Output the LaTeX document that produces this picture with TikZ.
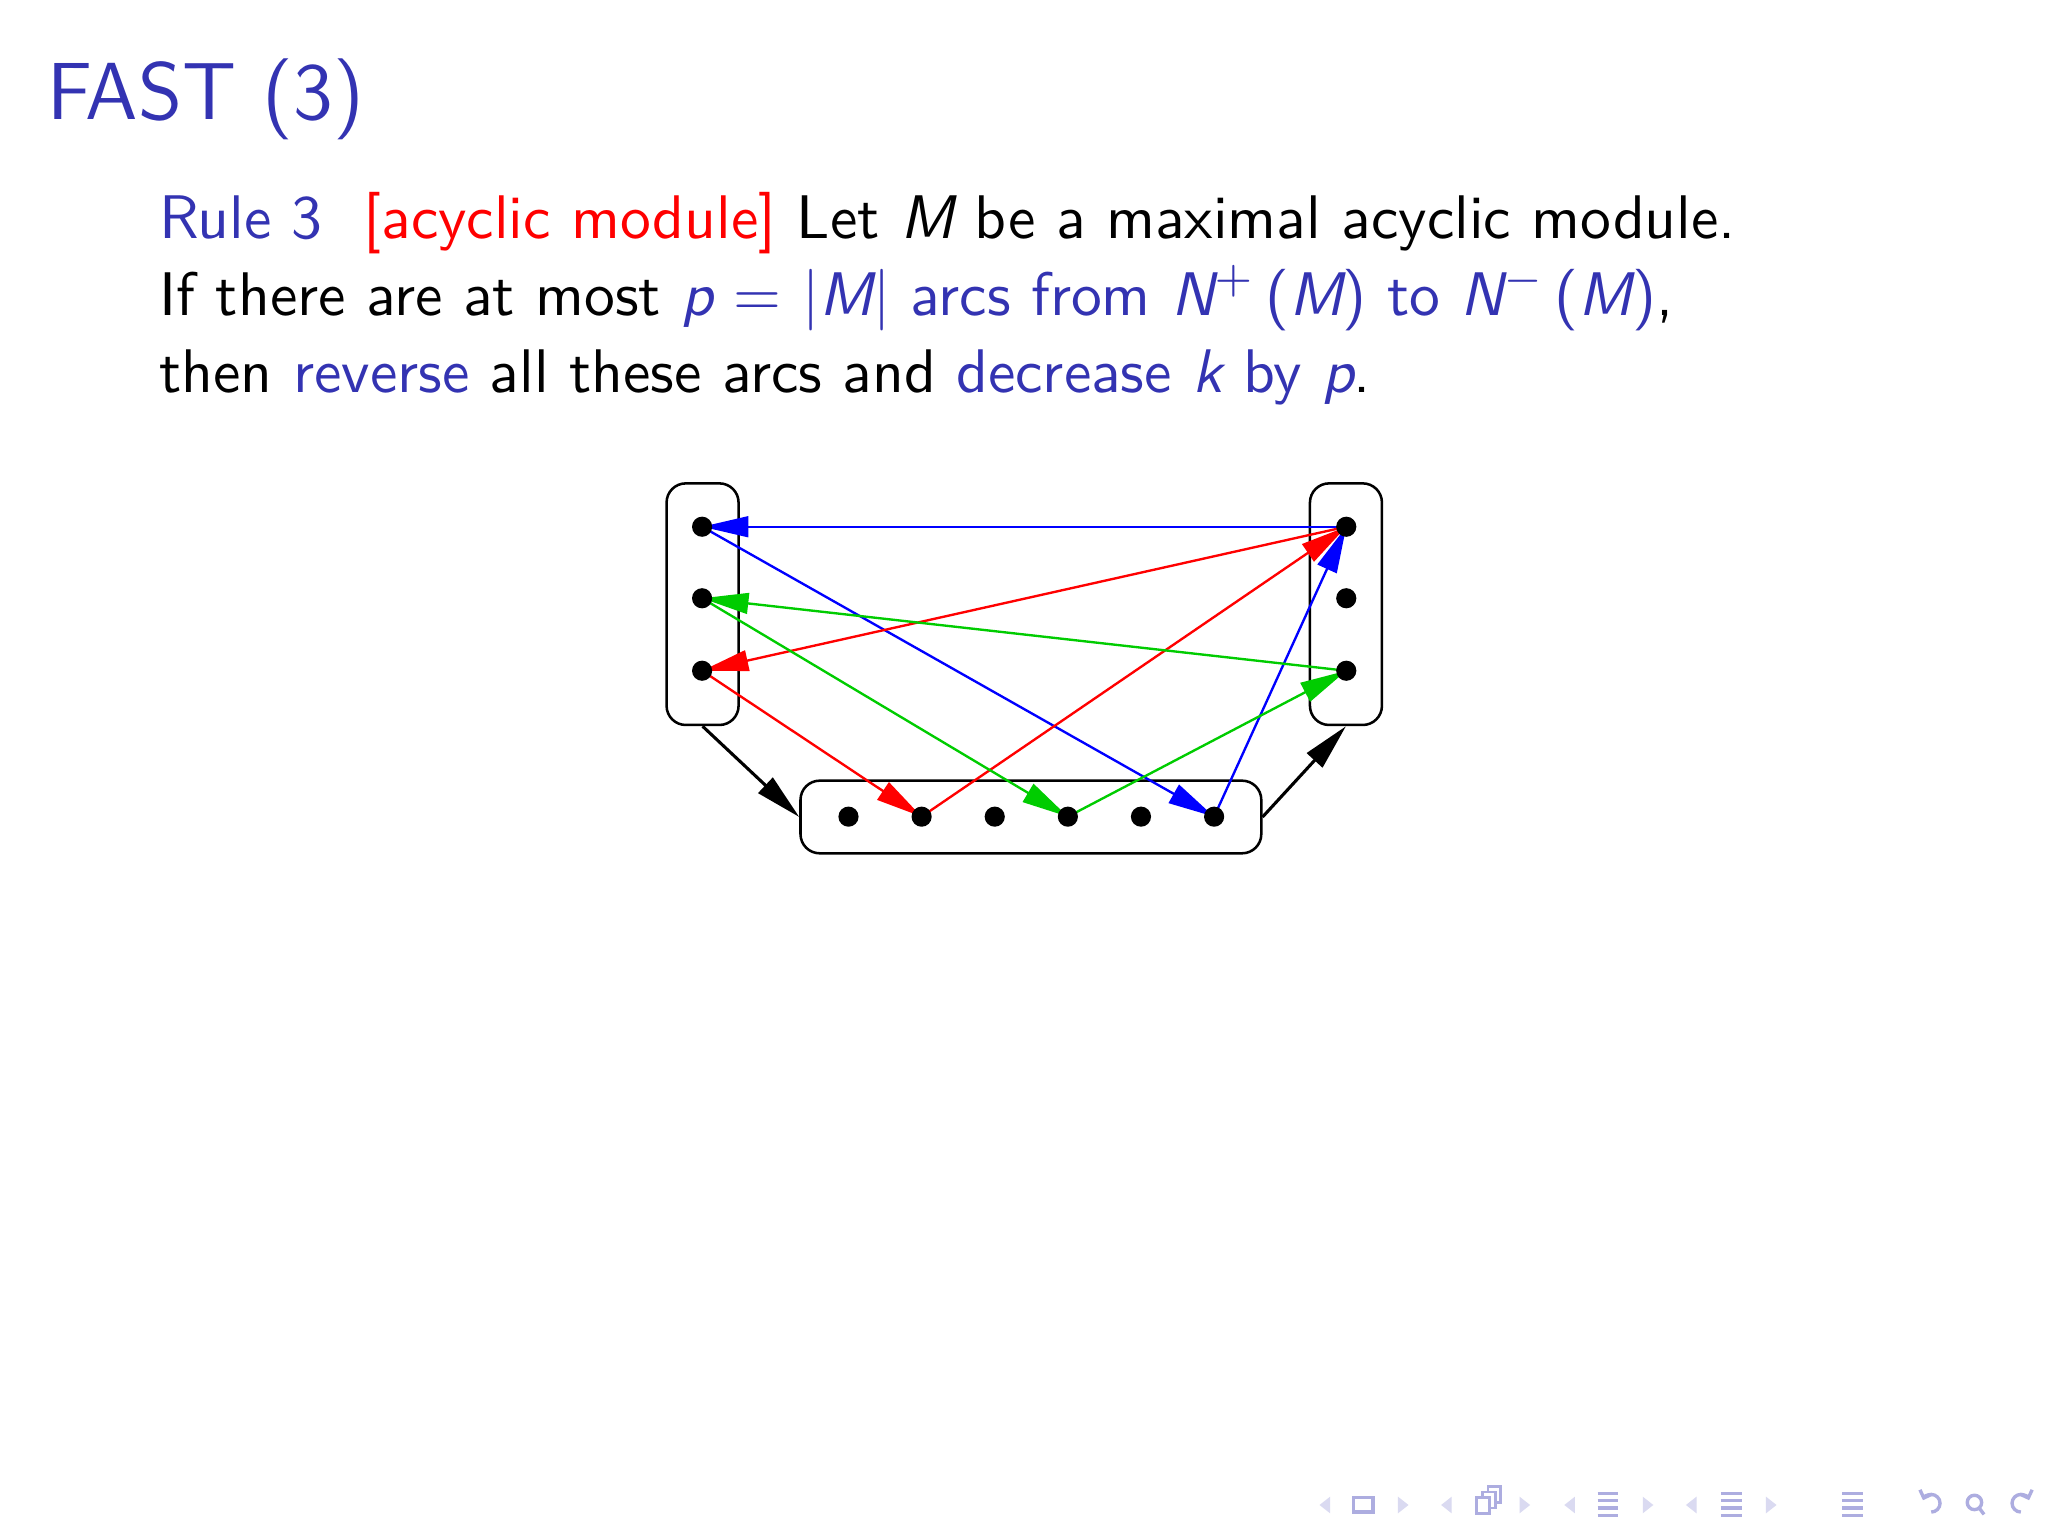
\documentclass[tikz,border=0pt]{standalone}
\usepackage{fontspec}
\usetikzlibrary{arrows.meta}
\definecolor{struct}{rgb}{0.2,0.2,0.7}
\definecolor{arcgreen}{rgb}{0,0.8,0}
\colorlet{navdark}{struct!40}
\colorlet{navlite}{struct!18}
\tikzset{
  grp/.style={draw,rounded corners=0.12cm,inner sep=0pt,line width=0.45pt},
  arc/.style={-{Triangle[length=0.29cm,width=0.13cm]},line width=0.42pt},
  txt/.style={anchor=base west,inner sep=0pt,font=\sffamily\fontsize{10.95}{13.6}\selectfont}
}
\begin{document}
\begin{tikzpicture}
\useasboundingbox (0,0) rectangle (12.8,9.6);
\fill[white] (0,0) rectangle (12.8,9.6);
\node[txt,font=\sffamily\fontsize{14.4}{18}\selectfont,text=struct] (title) at (0.29,8.856) {FAST (3)};
\node[txt] (line1) at (0.99,8.11) {{\color{struct}Rule 3}\ \ {\color{red}[acyclic module]} Let {\itshape M} be a maximal acyclic module.};
\node[txt] (line2) at (0.99,7.63) {If there are at most {\color{struct}{\itshape p} = |{\itshape M}| arcs from {\itshape N}$^{+}$\,({\itshape M}) to {\itshape N}$^{-}$\,({\itshape M})},};
\node[txt] (line3) at (0.99,7.15) {then {\color{struct}reverse} all these arcs and {\color{struct}decrease {\itshape k} by {\itshape p}}.};
\node[grp,minimum width=0.45cm,minimum height=1.51cm] (lbox) at (4.391,5.824) {};
\node[grp,minimum width=0.45cm,minimum height=1.51cm] (rbox) at (8.412,5.824) {};
\node[grp,minimum width=2.88cm,minimum height=0.454cm] (bbox) at (6.443,4.494) {};
\foreach \i/\y in {1/6.308,2/5.861,3/5.408} {
  \coordinate (l\i) at (4.388,\y);
  \coordinate (r\i) at (8.414,\y);
}
\foreach \i in {1,...,6}
  \coordinate (b\i) at ({5.303+0.457*(\i-1)},4.496);
\draw[arc,line width=0.55pt] (lbox.south) -- (bbox.west);
\draw[arc,line width=0.55pt] (bbox.east) -- (rbox.south);
\draw[arc,blue] (r1) -- (l1);
\draw[arc,blue] (l1) -- (b6);
\draw[arc,blue] (b6) -- (r1);
\draw[arc,red] (r1) -- (l3);
\draw[arc,red] (l3) -- (b2);
\draw[arc,red] (b2) -- (r1);
\draw[arc,arcgreen] (r3) -- (l2);
\draw[arc,arcgreen] (l2) -- (b4);
\draw[arc,arcgreen] (b4) -- (r3);
\foreach \n in {l1,l2,l3,r1,r2,r3,b1,b2,b3,b4,b5,b6}
  \fill (\n) circle (0.063);
\foreach \x in {8.28,9.04,9.81,10.57}
  \fill[navlite] (\x+0.033,0.142) -- (\x-0.033,0.194) -- (\x+0.033,0.246) -- cycle;
\foreach \x in {8.77,9.53,10.30,11.07}
  \fill[navlite] (\x-0.033,0.142) -- (\x+0.033,0.194) -- (\x-0.033,0.246) -- cycle;
\draw[navdark,line width=0.6pt] (8.46,0.15) rectangle (8.58,0.24);
\foreach \d in {0.07,0.035,0}
  \draw[navdark,line width=0.5pt,fill=white] (9.23+\d,0.24+\d) rectangle (9.31+\d,0.14+\d);
\foreach \x in {10.05,10.82,11.58}
  \foreach \y in {0.13,0.175,0.22,0.265}
    \draw[navdark,line width=0.55pt] (\x-0.065,\y) -- (\x+0.065,\y);
\draw[navdark,line width=0.6pt,-{Straight Barb[length=0.04cm]}] (12.07,0.15) arc (-90:160:0.055) ;
\draw[navdark,line width=0.6pt] (12.34,0.21) circle (0.045) (12.37,0.175) -- (12.4,0.135);
\draw[navdark,line width=0.6pt,-{Straight Barb[length=0.04cm]}] (12.63,0.15) arc (-90:-340:0.055) ;
\end{tikzpicture}
\end{document}
